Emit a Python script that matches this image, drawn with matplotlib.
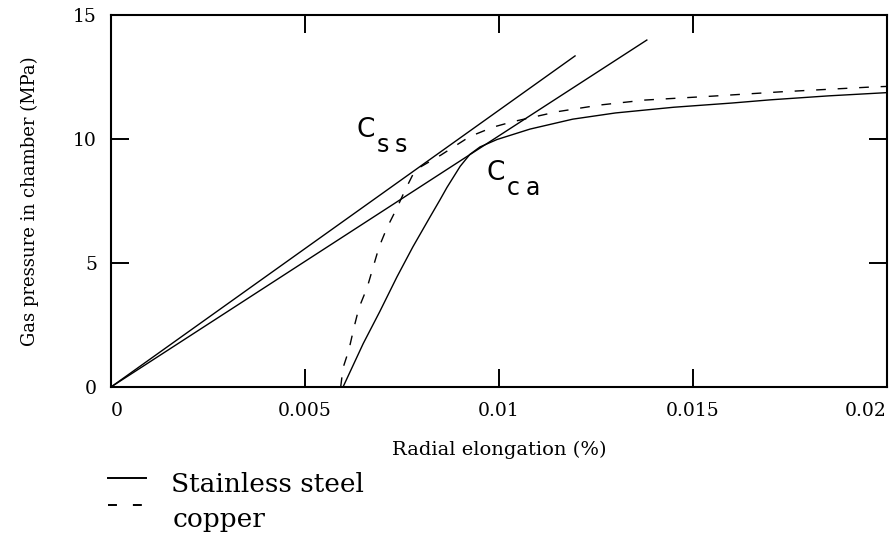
import numpy as np
import matplotlib.pyplot as plt
from matplotlib.lines import Line2D

# tangent lines from origin
css_x = [0.0, 0.01196]
css_y = [0.0, 13.35]
cca_x = [0.0, 0.01381]
cca_y = [0.0, 13.99]

# stainless steel curve
ss_x = [0.00598, 0.0065, 0.00693, 0.00737, 0.00778, 0.00822, 0.00848, 0.00866,
        0.009, 0.00925, 0.00951, 0.00995, 0.0108, 0.0119, 0.013, 0.0145,
        0.016, 0.017, 0.0185, 0.0200]
ss_y = [0.0, 1.75, 3.05, 4.44, 5.65, 6.85, 7.55, 8.05,
        8.9, 9.38, 9.68, 9.98, 10.4, 10.8, 11.05, 11.28,
        11.45, 11.58, 11.74, 11.87]

# copper curve
cu_x = [0.00592, 0.00598, 0.00613, 0.00626, 0.00639, 0.0066, 0.00675, 0.00691,
        0.00711, 0.00737, 0.00758, 0.00784, 0.0085, 0.00925, 0.00985, 0.01036,
        0.0115, 0.0126, 0.01376, 0.01552, 0.01724, 0.01964, 0.0200]
cu_y = [0.0, 0.77, 1.49, 2.38, 3.19, 4.0, 4.8, 5.65,
        6.41, 7.22, 7.94, 8.75, 9.35, 10.1, 10.48, 10.7,
        11.1, 11.37, 11.57, 11.73, 11.9, 12.1, 12.12]

xticks = [0, 0.005, 0.01, 0.015, 0.02]
xticklabels = ["0", "0.005", "0.01", "0.015", "0.02"]
yticks = [0, 5, 10, 15]
legend_labels = ["Stainless steel", "copper"]

serif = "DejaVu Serif"
sans = "DejaVu Sans"
W, H = 892, 534

fig = plt.figure(figsize=(W / 100, H / 100), dpi=100)
ax = fig.add_axes([111 / W, 1 - 387 / H, 776 / W, 372 / H])

ax.plot(css_x, css_y, color="black", lw=1)
ax.plot(cca_x, cca_y, color="black", lw=1)
ax.plot(ss_x, ss_y, color="black", lw=1)
ax.plot(cu_x, cu_y, color="black", lw=1, dashes=(7, 8.5))

ax.set_xlim(0, 0.02)
ax.set_ylim(0, 15)
ax.set_xticks(xticks)
ax.set_xticklabels(xticklabels, family=serif, fontsize=13.5)
ax.set_yticks(yticks)
ax.set_yticklabels([str(v) for v in yticks], family=serif, fontsize=13.5)
lbls = ax.get_xticklabels()
lbls[0].set_ha("left")
lbls[-1].set_ha("right")
ax.tick_params(axis="both", direction="in", length=13, width=1.4, top=True, right=True)
ax.tick_params(axis="x", pad=11)
ax.tick_params(axis="y", pad=10)
for s in ax.spines.values():
    s.set_linewidth(1.5)

ax.set_xlabel("Radial elongation (%)", family=serif, fontsize=14, labelpad=15)
ax.set_ylabel("Gas pressure in chamber (MPa)", family=serif, fontsize=13, labelpad=25)

# curve labels, subscript letters spread out like the original bitmap font
def label(x, y, main, sub):
    ax.text(x, y, main, family=sans, fontsize=19, va="baseline")
    for i, ch in enumerate(sub):
        ax.annotate(ch, (x, y), xytext=(14.5 + i * 13, -11), textcoords="offset points",
                    family=sans, fontsize=17, va="baseline")

label(0.00634, 10.08, "C", "ss")
label(0.00969, 8.35, "C", "ca")

# legend drawn below the axes
fig.add_artist(Line2D([108 / W, 146 / W], [1 - 478 / H] * 2, color="black", lw=1.4))
fig.add_artist(Line2D([108 / W, 143 / W], [1 - 505 / H] * 2, color="black", lw=1.4,
                      dashes=(4.6, 8.2)))
fig.text(171 / W, 1 - 492 / H, legend_labels[0], family=serif, fontsize=19, va="baseline")
fig.text(173 / W, 1 - 527 / H, legend_labels[1], family=serif, fontsize=19, va="baseline")

fig.savefig("out.png", dpi=100)
